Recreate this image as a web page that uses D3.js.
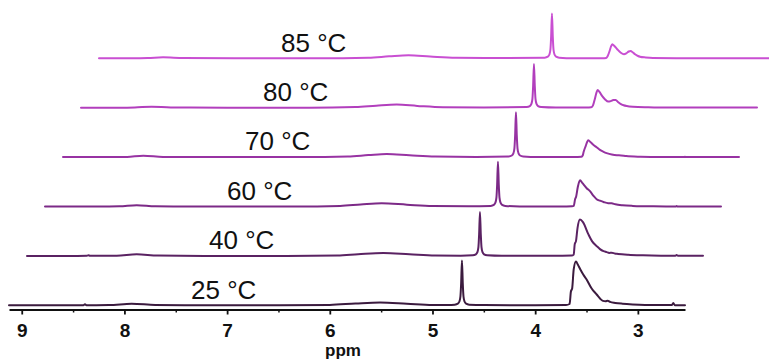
<!DOCTYPE html>
<html>
<head>
<meta charset="utf-8">
<script src="https://cdn.jsdelivr.net/npm/d3@7"></script>
<style>
  body { margin: 0; background: #fff; }
  svg { display: block; font-family: "Liberation Sans", Arial, sans-serif; }
  .tick text { font-weight: bold; font-size: 19px; fill: #111; }
  .trace { fill: none; stroke-width: 2; stroke-linejoin: round; stroke-linecap: round; }
</style>
</head>
<body>
<svg width="769" height="360"></svg>
<script>
// spectra, [ppm, intensity] (ppm relative to each trace)
var t25 = [[9.124,0.2],[8.6,0.2],[8.40,0.3],[8.384,1.2],[8.37,0.3],[8.15,0.4],[7.93,1.8],[7.7,0.5],[7.3,0.2],[6.5,0.2],[6.0,0.6],[5.75,2],[5.51,3],[5.25,1.8],[5.0,0.6],[4.85,0.4],
  [4.783,0.8],[4.753,1.8],[4.738,4],[4.728,9],[4.721,22],[4.713,45],[4.705,22],[4.698,9],[4.688,4],[4.673,1.8],[4.643,0.8],
  [4.5,0.4],[4.0,0.3],[3.7,0.5],[3.665,1.5],[3.652,14],[3.640,17],[3.625,36],[3.603,44],[3.585,41],[3.56,36],[3.532,31],[3.499,26],[3.45,17],[3.401,11],[3.369,7],[3.34,4.6],[3.315,4.2],[3.294,4.8],[3.27,3.6],[3.22,2.6],[3.15,1.8],[3.05,1.1],[2.93,0.6],[2.75,0.4],[2.67,0.4],[2.655,2.4],[2.64,0.3],[2.541,0.3]];

var t40 = [[9.124,0.2],[8.7,0.2],[8.54,0.3],[8.527,0.9],[8.51,0.3],[8.25,0.4],[8.056,1.8],[7.85,0.5],[7.4,0.2],[6.6,0.2],[6.1,0.6],[5.9,1.8],[5.654,3],[5.4,1.8],[5.15,0.6],[4.9,0.4],
  [4.783,0.8],[4.753,1.8],[4.738,4],[4.728,9],[4.721,22],[4.713,44],[4.705,22],[4.698,9],[4.688,4],[4.673,1.8],[4.643,0.8],
  [4.5,0.3],[4.0,0.3],[3.82,0.5],[3.80,1.5],[3.79,12],[3.778,15],[3.763,28],[3.739,36.5],[3.71,34],[3.658,22],[3.622,15],[3.576,10],[3.544,7],[3.51,5],[3.479,4],[3.455,3.2],[3.43,3.4],[3.40,2.6],[3.369,2.2],[3.27,1.4],[3.125,0.8],[2.95,0.4],[2.81,0.3],[2.798,1.2],[2.785,0.3],[2.541,0.3]];

var t60 = [[9.124,0.2],[8.6,0.2],[8.4,0.4],[8.231,1.5],[8.05,0.4],[7.5,0.2],[6.7,0.2],[6.25,0.8],[6.05,2.2],[5.845,3.4],[5.6,2],[5.35,0.7],[5.0,0.4],
  [4.783,0.8],[4.753,1.8],[4.738,4],[4.728,9],[4.721,22],[4.713,45],[4.705,22],[4.698,9],[4.688,4],[4.673,1.8],[4.643,0.8],
  [4.5,0.3],[4.1,0.3],[3.99,0.5],[3.975,0.8],[3.962,7.5],[3.952,10],[3.935,20],[3.914,26.5],[3.89,23.5],[3.849,18.5],[3.817,15.5],[3.78,10.5],[3.752,7.5],[3.72,6],[3.68,4.5],[3.64,3.5],[3.606,3.4],[3.57,2.4],[3.5,1.4],[3.4,0.8],[3.2,0.4],[2.98,0.3],[2.973,0.8],[2.965,0.3],[2.541,0.3]];

var t70 = [[9.124,0.2],[8.7,0.2],[8.5,0.4],[8.342,1.5],[8.15,0.4],[7.6,0.2],[6.8,0.2],[6.35,0.8],[6.15,2.2],[5.972,3.3],[5.75,2],[5.5,0.7],[5.1,0.4],
  [4.783,0.8],[4.753,1.8],[4.738,4],[4.728,9],[4.721,22],[4.713,45],[4.705,22],[4.698,9],[4.688,4],[4.673,1.8],[4.643,0.8],
  [4.5,0.3],[4.15,0.3],[4.075,0.6],[4.062,2],[4.055,5],[4.035,11],[4.009,17],[3.985,15],[3.96,12.5],[3.927,10],[3.895,7.4],[3.86,5.5],[3.83,4.2],[3.78,2.7],[3.73,2],[3.69,1.9],[3.64,1.2],[3.5,0.6],[3.3,0.3],[3.075,0.3],[3.067,0.6],[3.06,0.3],[2.541,0.3]];

var t80 = [[9.124,0.2],[8.75,0.2],[8.6,0.4],[8.436,1.2],[8.25,0.4],[7.7,0.2],[6.9,0.2],[6.45,0.8],[6.25,2.2],[6.05,3.3],[5.85,2],[5.6,0.7],[5.2,0.4],
  [4.783,0.8],[4.753,1.8],[4.738,4],[4.728,9],[4.721,22],[4.713,44],[4.705,22],[4.698,9],[4.688,4],[4.673,1.8],[4.643,0.8],
  [4.5,0.3],[4.2,0.3],[4.155,0.6],[4.138,2.5],[4.12,9],[4.105,15],[4.093,18],[4.075,16],[4.05,12],[4.02,8.5],[3.99,6.3],[3.965,6.8],[3.94,7.8],[3.917,8],[3.895,6],[3.87,4],[3.84,2.6],[3.81,1.8],[3.75,1.1],[3.6,0.6],[3.4,0.3],[2.541,0.3]];

var t85 = [[9.124,0.2],[8.8,0.2],[8.65,0.4],[8.50,1.2],[8.3,0.4],[7.8,0.2],[7.0,0.2],[6.5,0.8],[6.3,2.2],[6.11,3.3],[5.9,2],[5.65,0.7],[5.25,0.4],
  [4.783,0.8],[4.753,1.8],[4.738,4],[4.728,9],[4.721,22],[4.713,45],[4.705,22],[4.698,9],[4.688,4],[4.673,1.8],[4.643,0.8],
  [4.5,0.3],[4.22,0.3],[4.185,0.6],[4.17,2.5],[4.15,8],[4.138,12],[4.126,14.3],[4.105,12.5],[4.075,9],[4.045,6],[4.012,4.2],[3.985,5.5],[3.965,7],[3.947,7.6],[3.925,6],[3.9,4],[3.875,2.5],[3.856,1.8],[3.8,1],[3.73,0.5],[3.5,0.3],[2.541,0.3]];

var spectra = [t25, t40, t60, t70, t80, t85];
var temps = ["25 °C", "40 °C", "60 °C", "70 °C", "80 °C", "85 °C"];
var colors = ["#3b1b3e", "#5a2262", "#7c2a87", "#9833a3", "#b23fbd", "#c94fd2"];
var majorTicks = [9, 8, 7, 6, 5, 4, 3];
var minorTicks = [8.5, 7.5, 6.5, 5.5, 4.5, 3.5];

var svg = d3.select("svg");

// stacked plot offsets (px per trace)
var stackX = 18, stackY = 49.4;
var axisY = 309.5;

var x = d3.scaleLinear().domain([9.124, 2.541]).range([9, 685]);
var y = d3.scaleLinear().domain([0, 45]).range([305.5, 260.5]);

var line = d3.line()
  .x(function (d) { return x(d[0]); })
  .y(function (d) { return y(d[1]); })
  .curve(d3.curveMonotoneX);

var traces = svg.append("g")
  .selectAll("g")
  .data(spectra)
  .enter().append("g")
  .attr("transform", function (d, i) {
    return "translate(" + (stackX * i) + "," + (-stackY * i) + ")";
  });

traces.append("path")
  .attr("class", "trace")
  .attr("stroke", function (d, i) { return colors[i]; })
  .attr("d", function (d) {
    return line(d.slice().sort(function (a, b) { return b[0] - a[0]; }));
  });

traces.append("text")
  .attr("x", 191)
  .attr("y", y(0) - 7)
  .attr("font-size", 26)
  .attr("fill", "#111")
  .text(function (d, i) { return temps[i]; });

// axis
var minorAxis = svg.append("g")
  .attr("transform", "translate(0," + axisY + ")")
  .call(d3.axisBottom(x).tickValues(minorTicks).tickSize(3).tickSizeOuter(0).tickFormat(""));
minorAxis.select(".domain").remove();
minorAxis.selectAll("line").attr("stroke", "#111").attr("stroke-width", 1.5);

var axis = svg.append("g")
  .attr("transform", "translate(0," + axisY + ")")
  .call(d3.axisBottom(x).tickValues(majorTicks).tickSize(5).tickSizeOuter(0).tickPadding(9).tickFormat(d3.format("d")));
axis.select(".domain").attr("stroke", "#111").attr("stroke-width", 2);
axis.selectAll("line").attr("stroke", "#111").attr("stroke-width", 1.8);
axis.selectAll("text").attr("font-family", null).attr("font-size", null);

svg.append("text")
  .attr("x", 343)
  .attr("y", 356)
  .attr("text-anchor", "middle")
  .attr("font-weight", "bold")
  .attr("font-size", 17)
  .attr("fill", "#111")
  .text("ppm");
</script>
</body>
</html>
